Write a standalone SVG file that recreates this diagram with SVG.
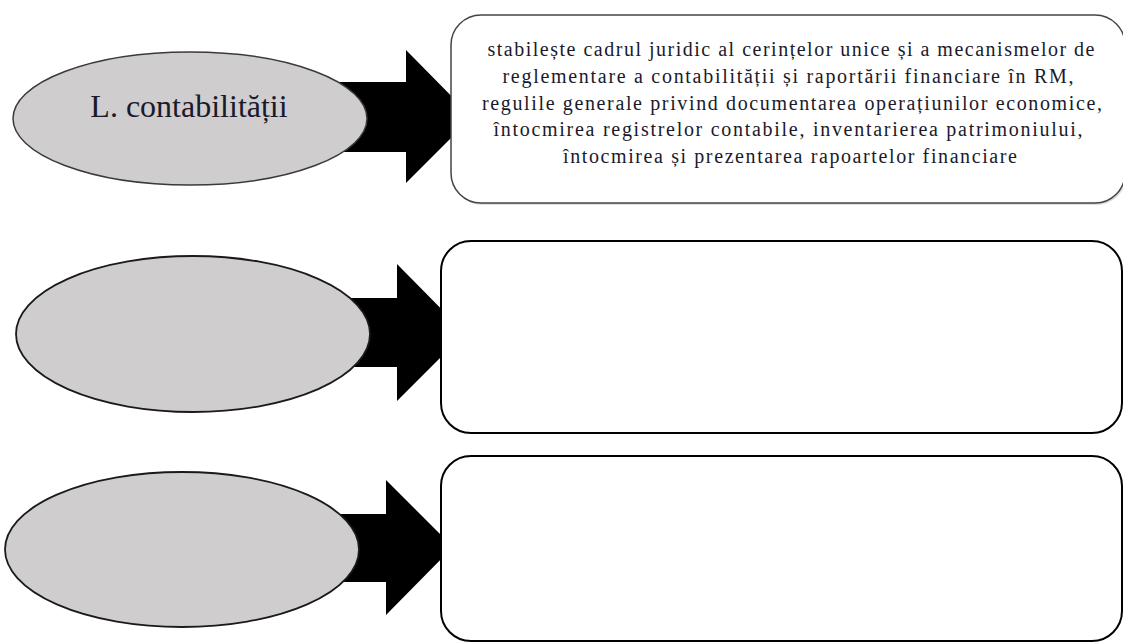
<svg xmlns="http://www.w3.org/2000/svg" width="1123" height="644" viewBox="0 0 1123 644">
<defs>
<style>
.ell{fill:#cfcdce;stroke:#1a1a1a;stroke-width:1.8}
.ell1{fill:#cfcdce;stroke:#3a3a3a;stroke-width:1.5}
.box{fill:#ffffff;stroke:#000000;stroke-width:2}
.box1{fill:#ffffff;stroke:#444444;stroke-width:1.5}
.arrow{fill:#000000;stroke:none}
.lbl{font-family:"Liberation Serif","Times New Roman",serif;font-size:32px;fill:#1a1a2a;text-anchor:middle}
.txt{font-family:"Liberation Serif","Times New Roman",serif;font-size:20px;fill:#1a1a2a;text-anchor:middle}
</style>
</defs>
<rect width="1123" height="644" fill="#ffffff"/>
<g id="connectors">
<polygon class="arrow" points="190,82 406,82 406,50 472,117 406,183 406,152 190,152"/>
<polygon class="arrow" points="193,298 397,298 397,264 465,333 397,401 397,367 193,367"/>
<polygon class="arrow" points="182,514 386,514 386,480 453,547 386,615 386,582 182,582"/>
</g>
<g id="box1">
<rect x="451" y="15" width="674" height="188" rx="30" ry="30" fill="#bbbbbb" opacity="0.5" transform="translate(1.5,2)"/>
<rect class="box1" x="451" y="15" width="674" height="188" rx="30" ry="30"/>
<text class="txt" x="791" y="56" textLength="607" lengthAdjust="spacing">stabilește cadrul juridic al cerințelor unice și a mecanismelor de</text>
<text class="txt" x="788" y="83" textLength="571" lengthAdjust="spacing">reglementare a contabilității și raportării financiare în RM,</text>
<text class="txt" x="792" y="110" textLength="620" lengthAdjust="spacing">regulile generale privind documentarea operațiunilor economice,</text>
<text class="txt" x="788" y="136" textLength="589" lengthAdjust="spacing">întocmirea registrelor contabile, inventarierea patrimoniului,</text>
<text class="txt" x="790" y="163" textLength="454" lengthAdjust="spacing">întocmirea și prezentarea rapoartelor financiare</text>
</g>
<g id="ellipse1">
<ellipse class="ell1" cx="190" cy="118.5" rx="177" ry="66.5"/>
<text class="lbl" x="189" y="117">L. contabilității</text>
</g>
<g id="box2">
<rect class="box" x="441" y="241" width="681" height="192" rx="30" ry="30"/>
</g>
<g id="ellipse2">
<ellipse class="ell" cx="193" cy="334" rx="177" ry="78"/>
</g>
<g id="box3">
<rect class="box" x="441" y="456" width="681" height="185" rx="30" ry="30"/>
</g>
<g id="ellipse3">
<ellipse class="ell" cx="182" cy="549.5" rx="177" ry="77.5"/>
</g>
</svg>
